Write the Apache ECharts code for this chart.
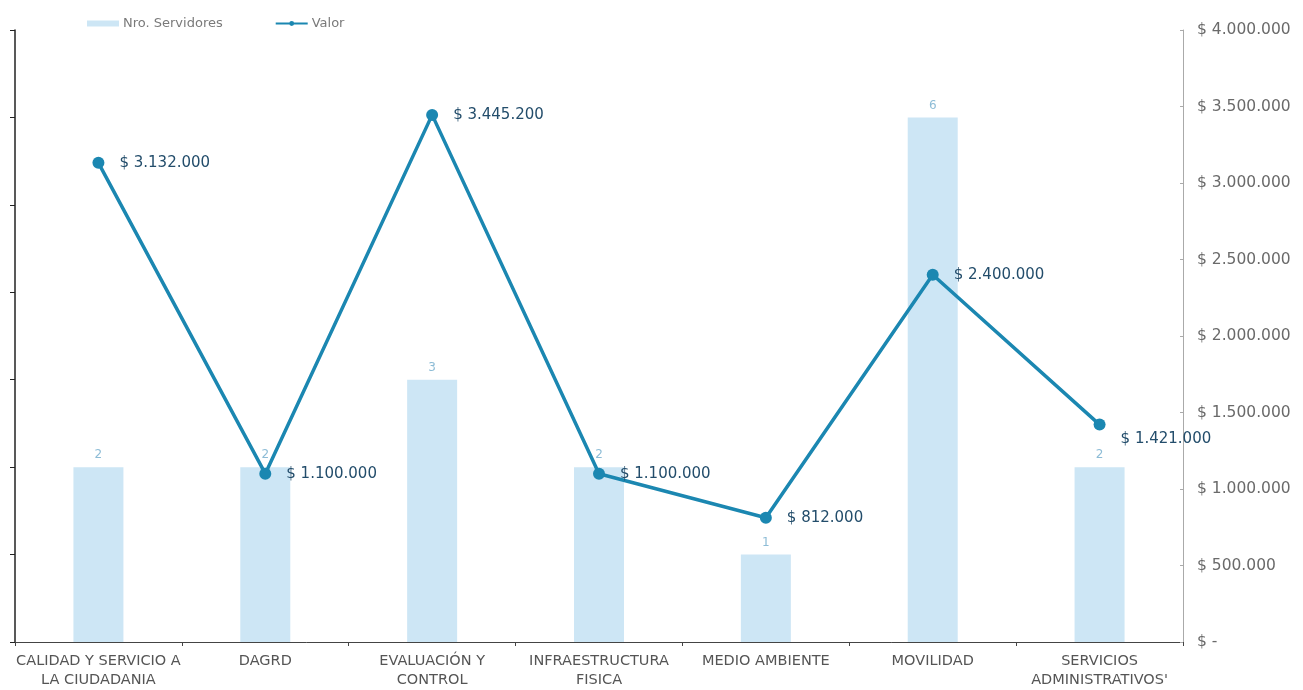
<!DOCTYPE html>
<html>
<head>
<meta charset="utf-8">
<script src="https://cdn.jsdelivr.net/npm/echarts@6/dist/echarts.min.js"></script>
<style>
html,body{margin:0;padding:0;background:#fff;}
#c{width:1303px;height:690px;}
</style>
</head>
<body>
<div id="c"></div>
<script>
const categories = [
  'CALIDAD Y SERVICIO A\nLA CIUDADANIA',
  'DAGRD',
  'EVALUACIÓN Y\nCONTROL',
  'INFRAESTRUCTURA\nFISICA',
  'MEDIO AMBIENTE',
  'MOVILIDAD',
  "SERVICIOS\nADMINISTRATIVOS'"
];
const servidores = [2, 2, 3, 2, 1, 6, 2];
const valor = [3132000, 1100000, 3445200, 1100000, 812000, 2400000, 1421000];
const rightTicks = { min: 0, max: 4000000, interval: 500000 };
const leftTicks = { min: 0, max: 7, interval: 1 };

function money(v) {
  if (v === 0) return '$ -';
  return '$ ' + String(v).replace(/\B(?=(\d{3})+(?!\d))/g, '.');
}

const chart = echarts.init(document.getElementById('c'));
const font = 'DejaVu Sans';
chart.setOption({
  animation: false,
  textStyle: { fontFamily: font },
  legend: {
    left: 82, top: 12,
    itemWidth: 32, itemHeight: 6, itemGap: 52,
    textStyle: { color: '#7a7a7a', fontSize: 13, fontFamily: font, padding: [0, 0, 0, -1] },
    data: [
      { name: 'Nro. Servidores', icon: 'rect' },
      { name: 'Valor' }
    ]
  },
  grid: { left: 15, right: 120, top: 30, bottom: 47 },
  xAxis: {
    type: 'category',
    data: categories,
    axisLine: { lineStyle: { color: '#444', width: 1 } },
    axisTick: { show: true, length: 4, lineStyle: { color: '#444' } },
    axisLabel: { color: '#555', fontSize: 14.5, lineHeight: 19, margin: 10, interval: 0 }
  },
  yAxis: [
    {
      type: 'value', position: 'left',
      min: leftTicks.min, max: leftTicks.max, interval: leftTicks.interval,
      axisLine: { show: true, lineStyle: { color: '#222', width: 1.5 } },
      axisTick: { show: true, length: 5, lineStyle: { color: '#222' } },
      axisLabel: { show: false },
      splitLine: { show: false }
    },
    {
      type: 'value', position: 'right',
      min: rightTicks.min, max: rightTicks.max, interval: rightTicks.interval,
      axisLine: { show: true, lineStyle: { color: '#aaa', width: 1 } },
      axisTick: { show: true, inside: true, length: 3, lineStyle: { color: '#aaa' } },
      axisLabel: { color: '#6a6a6a', fontSize: 15.5, margin: 14, formatter: money },
      splitLine: { show: false }
    }
  ],
  series: [
    {
      name: 'Nro. Servidores',
      type: 'bar',
      yAxisIndex: 0,
      data: servidores,
      barWidth: 50,
      itemStyle: { color: '#cde6f5' },
      label: { show: true, position: 'top', color: '#8dbcd6', fontSize: 12, distance: 6 }
    },
    {
      name: 'Valor',
      type: 'line',
      yAxisIndex: 1,
      data: valor.map((v, i) => i === valor.length - 1
        ? { value: v, label: { offset: [0, 15] } }
        : v),
      lineStyle: { color: '#1b87b1', width: 3.5 },
      itemStyle: { color: '#1b87b1' },
      symbol: 'circle',
      symbolSize: 12,
      z: 5,
      label: {
        show: true, position: 'right', distance: 15,
        color: '#234d6b', fontSize: 15,
        formatter: p => money(p.value)
      }
    }
  ]
});
</script>
</body>
</html>
